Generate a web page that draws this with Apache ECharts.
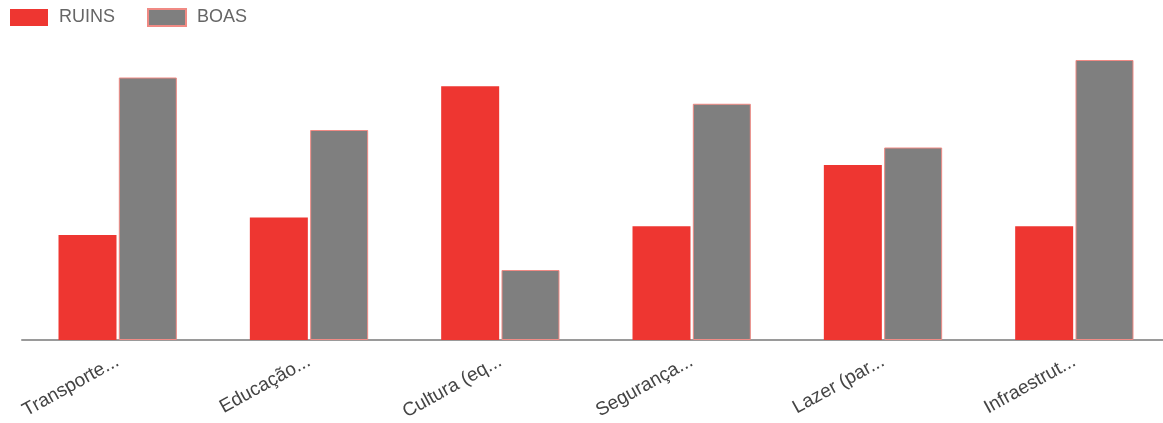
<!DOCTYPE html>
<html>
<head>
<meta charset="utf-8">
<script src="https://cdn.jsdelivr.net/npm/echarts@6/dist/echarts.min.js"></script>
<style>
html,body{margin:0;padding:0;background:#fff;}
#c{width:1163px;height:423px;}
</style>
</head>
<body>
<div id="c"></div>
<script>
const categories = ["Transporte...", "Educação...", "Cultura (eq...", "Segurança...", "Lazer (par...", "Infraestrut..."];
const ruins = [12, 14, 29, 13, 20, 13];
const boas = [30, 24, 8, 27, 22, 32];
const seriesNames = ["RUINS", "BOAS"];

const chart = echarts.init(document.getElementById('c'));
chart.setOption({
  animation: false,
  legend: {
    left: 10, top: 8, padding: 0,
    itemWidth: 38, itemHeight: 17, itemGap: 32,
    icon: 'rect',
    textStyle: { fontFamily: 'Liberation Sans, Arial, sans-serif', fontSize: 18, color: '#666', padding: [0, 0, 0, 6] },
    data: seriesNames
  },
  grid: { left: 22, width: 1148, top: 33.75, height: 306.25, containLabel: false, outerBoundsMode: 'none' },
  xAxis: {
    type: 'category',
    data: categories,
    axisLine: { lineStyle: { color: '#9a9a9a', width: 2 } },
    axisTick: { show: false },
    axisLabel: {
      rotate: 29, interval: 0, margin: 20,
      fontFamily: 'Liberation Sans, Arial, sans-serif', fontSize: 19, color: '#444'
    }
  },
  yAxis: {
    type: 'value', min: 0, max: 35, interval: 10,
    show: false,
    splitLine: { show: false }
  },
  series: [
    { name: seriesNames[0], type: 'bar', data: ruins, barWidth: 58, barGap: '4%',
      itemStyle: { color: '#ee3631' } },
    { name: seriesNames[1], type: 'bar', data: boas, barWidth: 58,
      itemStyle: { color: '#7f7f7f', borderColor: '#f08a84', borderWidth: 1 } }
  ]
});
</script>
</body>
</html>
